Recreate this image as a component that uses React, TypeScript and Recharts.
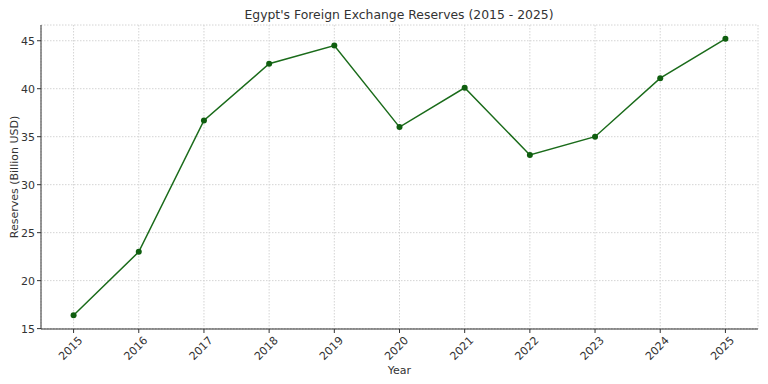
import React from "react";
import { LineChart, Line, XAxis, YAxis, CartesianGrid } from "recharts";

const years = [2015, 2016, 2017, 2018, 2019, 2020, 2021, 2022, 2023, 2024, 2025];
const reserves = [16.4, 23.0, 36.7, 42.6, 44.5, 36.0, 40.1, 33.1, 35.0, 41.1, 45.2];
const yTicks = [15, 20, 25, 30, 35, 40, 45];

const data = years.map((y, i) => ({ year: y, value: reserves[i] }));

const FONT = "DejaVu Sans, sans-serif";

const XTick = (props: any) => {
  const { x, y, payload } = props;
  return (
    <g transform={`translate(${x},${y + 5})`}>
      <text
        transform="rotate(-45)"
        textAnchor="end"
        dominantBaseline="central"
        x={6}
        y={4}
        fontSize={11}
        fill="#333"
        fontFamily={FONT}
      >
        {payload.value}
      </text>
    </g>
  );
};

export default function App() {
  return (
    <div style={{ position: "absolute", left: 0, top: 0, width: 768, height: 384, background: "#fff" }}>
      <LineChart
        width={768}
        height={384}
        data={data}
        margin={{ top: 25, right: 10, left: 0, bottom: 0 }}
      >
        <text x={399} y={19} textAnchor="middle" fontSize={12.4} fill="#333" fontFamily={FONT}>
          Egypt's Foreign Exchange Reserves (2015 - 2025)
        </text>
        <CartesianGrid stroke="#d4d4d4" strokeDasharray="1.5 1.5" vertical horizontal />
        <XAxis
          dataKey="year"
          type="number"
          domain={[2014.5, 2025.5]}
          ticks={years}
          height={55}
          tick={<XTick />}
          tickSize={4}
          axisLine={{ stroke: "#333" }}
          tickLine={{ stroke: "#333" }}
          interval={0}
          allowDataOverflow
          label={{ value: "Year", position: "insideBottom", offset: 10, fontSize: 11, fill: "#333", fontFamily: FONT }}
        />
        <YAxis
          type="number"
          domain={[14.96, 46.64]}
          ticks={yTicks}
          width={41}
          tickSize={4}
          tick={{ fontSize: 11, fill: "#333", fontFamily: FONT }}
          axisLine={{ stroke: "#333" }}
          tickLine={{ stroke: "#333" }}
          allowDataOverflow
          label={{
            value: "Reserves (Billion USD)",
            angle: -90,
            position: "insideLeft",
            offset: 14,
            style: { textAnchor: "middle" },
            fontSize: 11,
            fill: "#333",
            fontFamily: FONT,
          }}
        />
        <Line
          type="linear"
          dataKey="value"
          stroke="#1a6b1a"
          strokeWidth={1.5}
          dot={{ r: 3, fill: "#0f5e0f", stroke: "#0f5e0f", strokeWidth: 0 }}
          isAnimationActive={false}
        />
      </LineChart>
    </div>
  );
}
